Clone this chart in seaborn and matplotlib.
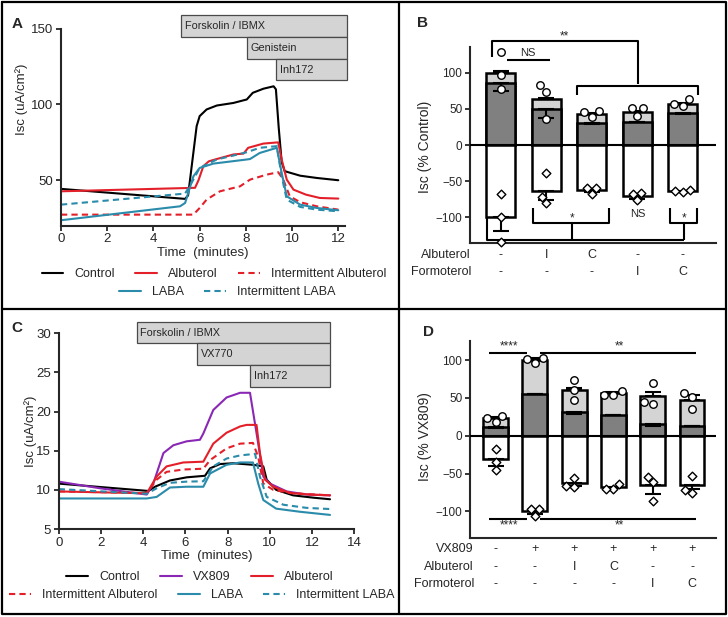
import numpy as np
import pandas as pd
import matplotlib
matplotlib.use("Agg")
import matplotlib.pyplot as plt
import matplotlib.transforms as mtransforms
from matplotlib.patches import Rectangle
from matplotlib.lines import Line2D
import seaborn as sns
import warnings
warnings.filterwarnings("ignore")

# ---------------- Panel A data (time in minutes, Isc uA/cm2) ----------------
a_control_t = [0, 5.37, 5.5, 5.87, 6.0, 6.3, 6.74, 7.46, 8.04, 8.3, 8.76, 9.2, 9.3, 9.42, 9.55, 9.68, 9.9, 10.35, 11.07, 12]
a_control = [44.3, 37.7, 40, 85.7, 92.3, 96.7, 99.3, 101, 103.3, 107.7, 110.4, 112, 110, 85, 62, 56, 55, 53, 51.5, 50]
a_alb_t = [0, 5.8, 5.95, 6.16, 6.4, 6.74, 7.46, 7.9, 8.1, 8.76, 9.4, 9.55, 9.77, 10.06, 10.6, 11.2, 12]
a_alb = [42.7, 45, 50, 59.3, 62.5, 64, 67, 67.6, 71.4, 74.2, 75, 63.7, 50.4, 43.8, 40.5, 38.3, 37.9]
a_ialb_t = [0, 5.73, 6.0, 6.3, 6.88, 7.46, 7.75, 8.18, 8.9, 9.4, 9.62, 9.9, 10.35, 11.07, 12]
a_ialb = [27.3, 27.3, 31.7, 37.2, 42.7, 44.9, 46, 50.4, 53.7, 55.3, 50.4, 39.4, 35.5, 32.8, 30.6]
a_laba_t = [0, 5.15, 5.37, 5.73, 6.0, 6.6, 7.46, 8.04, 8.18, 8.6, 9.34, 9.55, 9.77, 10.35, 11.07, 12]
a_laba = [23.6, 32.8, 35, 52.6, 58.1, 61, 62.6, 63.7, 64, 68, 71.4, 54.8, 39.4, 33.9, 31.7, 30.2]
a_ilaba_t = [0, 5.37, 5.73, 6.0, 6.74, 7.46, 8.04, 8.6, 9.34, 9.55, 9.77, 10.35, 11.07, 12]
a_ilaba = [33.9, 41.2, 50.4, 58.1, 63.7, 66.3, 68.5, 71.4, 72.5, 52.6, 37.2, 32.4, 30.6, 29.5]
a_drugs = ["Forskolin / IBMX", "Genistein", "Inh172"]
a_drug_start = [5.2, 8.04, 9.3]

# ---------------- Panel C data ----------------
c_control_t = [0, 4.25, 4.56, 5.27, 6.06, 6.93, 7.17, 7.64, 8.27, 9.2, 9.69, 9.85, 10.3, 11.1, 12.06, 12.85]
c_control = [10.8, 9.86, 10.4, 11.2, 11.6, 11.8, 12.75, 13.3, 13.4, 13.2, 13.0, 11.3, 10.0, 9.3, 9.0, 8.8]
c_vx_t = [0, 1.96, 4.17, 4.48, 4.96, 5.43, 6.06, 6.69, 6.85, 7.32, 7.95, 8.59, 9.06, 9.45, 9.69, 10.0, 10.8, 11.74, 12.85]
c_vx = [11.05, 10.2, 9.4, 10.8, 14.7, 15.7, 16.2, 16.4, 17.2, 20.2, 21.8, 22.4, 22.4, 15.9, 11.7, 10.8, 9.8, 9.4, 9.3]
c_alb_t = [0, 4.17, 4.64, 5.11, 5.9, 6.85, 7.32, 7.95, 8.59, 8.9, 9.37, 9.53, 9.77, 10.16, 10.95, 11.9, 12.85]
c_alb = [9.8, 9.56, 11.7, 13.0, 13.5, 13.6, 15.9, 17.3, 18.1, 18.3, 18.3, 14.7, 11.3, 10.4, 9.6, 9.4, 9.3]
c_ialb_t = [0, 4.17, 4.64, 5.11, 5.9, 6.85, 7.17, 7.95, 8.59, 9.2, 9.45, 9.69, 10.16, 11.1, 12.85]
c_ialb = [9.8, 9.6, 11.3, 12.3, 12.6, 12.7, 13.8, 15.3, 15.9, 16.0, 14.2, 10.8, 10.0, 9.56, 9.3]
c_laba_t = [0, 4.17, 4.64, 5.27, 6.06, 6.85, 7.17, 7.95, 8.59, 9.2, 9.45, 9.69, 10.3, 11.43, 12.85]
c_laba = [8.9, 8.9, 9.1, 10.3, 10.4, 10.4, 12.1, 13.2, 13.5, 13.5, 10.8, 8.7, 7.6, 7.2, 6.8]
c_ilaba_t = [0, 4.17, 4.64, 5.27, 6.06, 6.85, 7.32, 7.95, 8.59, 9.3, 9.53, 9.85, 10.64, 11.74, 12.85]
c_ilaba = [10.1, 9.5, 10.2, 10.9, 11.05, 11.1, 13.0, 14.0, 14.4, 14.6, 11.7, 9.1, 8.1, 7.7, 7.55]
c_drugs = ["Forskolin / IBMX", "VX770", "Inh172"]
c_drug_start = [3.69, 6.57, 9.06]

# ---------------- Panel B data (% Control) ----------------
b_groups = ["g1", "g2", "g3", "g4", "g5"]
b_albuterol = ["-", "I", "C", "-", "-"]
b_formoterol = ["-", "-", "-", "I", "C"]
b_total = [100, 63.1, 42.4, 45.2, 56.7]
b_total_err = [102, 65.4, 43.8, 47, 58.5]
b_dark = [85.3, 49.3, 30, 32.3, 43.8]
b_dark_err = [74.7, 37.8, 29.2, 31.5, 42.9]
b_neg = [-100, -63.1, -62.2, -70.5, -63.1]
b_neg_err = [-119.5, -76, -65.4, -75.1, -64.5]
b_circles = [[129, 96.8, 78], [83, 73.7, 36], [45.2, 39.2, 47], [50.7, 40.6, 50.7], [56.2, 53.9, 63.1]]
b_diamonds = [[-68.2, -100, -133.6], [-39.2, -71.4, -80.6], [-59, -67.7, -59.9], [-66.8, -76, -67.7], [-62.2, -65.4, -63.1]]

# ---------------- Panel D data (% VX809) ----------------
d_groups = ["h1", "h2", "h3", "h4", "h5", "h6"]
d_vx809 = ["-", "+", "+", "+", "+", "+"]
d_albuterol = ["-", "-", "I", "C", "-", "-"]
d_formoterol = ["-", "-", "-", "-", "I", "C"]
d_total = [22.9, 100, 60.4, 56, 52.9, 47.1]
d_total_err = [24.2, 102.2, 63.4, 58.1, 58.1, 53.7]
d_dark = [11, 54.6, 31.7, 27.3, 15.4, 12.8]
d_dark_err = [9.8, 54.6, 28.6, 27.3, 13.2, 12.8]
d_neg = [-30.8, -100, -62.1, -67.4, -65.6, -65.6]
d_neg_err = [-39.6, -103.5, -66.1, -69.6, -76.7, -70.9]
d_circles = [[26, 17.6, 22.9], [100.9, 95.6, 102.2], [73.6, 60.4, 47.1], [53.7, 53.7, 59.5], [70, 41.9, 44.9], [56, 50.7, 34.8]]
d_diamonds = [[-18.1, -45.4, -35.2], [-96.9, -106.2, -97.4], [-55.5, -67.4, -66.1], [-64.3, -70.9, -70.9], [-54.2, -61.7, -86.3], [-53.3, -76.2, -71.8]]

# ---------------- style ----------------
sns.set_style("ticks")
plt.rcParams["font.family"] = ["Liberation Sans", "DejaVu Sans"]
plt.rcParams["axes.linewidth"] = 1.5
plt.rcParams["xtick.major.width"] = 1.3
plt.rcParams["ytick.major.width"] = 1.3
plt.rcParams["xtick.major.size"] = 3.5
plt.rcParams["ytick.major.size"] = 3.5

RED = "#e3202a"
TEAL = "#2a8bab"
PURPLE = "#8a28b5"
LIGHT = "#d4d4d4"
DARK = "#808080"

W, H = 728, 617
fig = plt.figure(figsize=(W / 100, H / 100), dpi=100)


def ax_px(left, top, right, bottom):
    return fig.add_axes([left / W, 1 - bottom / H, (right - left) / W, (bottom - top) / H])


def long_df(series):
    frames = []
    for name, t, v in series:
        frames.append(pd.DataFrame({"t": t, "isc": v, "series": name}))
    return pd.concat(frames, ignore_index=True)


palette = {"Control": "black", "VX809": PURPLE, "Albuterol": RED, "Intermittent Albuterol": RED,
           "LABA": TEAL, "Intermittent LABA": TEAL}
dashes = {"Control": "", "VX809": "", "Albuterol": "", "Intermittent Albuterol": (3, 2),
          "LABA": "", "Intermittent LABA": (3, 2)}


def trace_panel(ax, df, xlim, ylim, xticks, yticks, drugs, starts, box_right, box_ys):
    sns.lineplot(data=df, x="t", y="isc", hue="series", style="series", palette=palette,
                 dashes=dashes, estimator=None, sort=False, lw=1.5, legend=False, ax=ax)
    ax.set_xlim(*xlim)
    ax.set_ylim(*ylim)
    ax.set_xticks(xticks)
    ax.set_yticks(yticks)
    ax.tick_params(labelsize=9.5, pad=2)
    sns.despine(ax=ax)
    ax.set_xlabel("Time  (minutes)", fontsize=9.5, labelpad=1)
    for i, (name, s) in enumerate(zip(drugs, starts)):
        y0, y1 = box_ys[i + 1], box_ys[i]
        ax.add_patch(Rectangle((s, y0), box_right - s, y1 - y0, facecolor=LIGHT,
                               edgecolor="#4a4a4a", lw=0.9, clip_on=False, zorder=5))
        ax.text(s + (xlim[1] - xlim[0]) * 0.013, (y0 + y1) / 2, name, fontsize=7.8,
                va="center", ha="left", clip_on=False, zorder=6)


# ---------------- Panel A ----------------
axA = ax_px(61, 28.7, 345, 225.7)
dfA = long_df([("Control", a_control_t, a_control), ("Albuterol", a_alb_t, a_alb),
               ("Intermittent Albuterol", a_ialb_t, a_ialb), ("LABA", a_laba_t, a_laba),
               ("Intermittent LABA", a_ilaba_t, a_ilaba)])
trace_panel(axA, dfA, (0, 12.29), (20, 150), [0, 2, 4, 6, 8, 10, 12], [50, 100, 150],
            a_drugs, a_drug_start, 12.37, [159.1, 144.5, 130.0, 116.1])
axA.set_ylabel("Isc (uA/cm²)", fontsize=9.5)
axA.yaxis.set_label_coords(-0.115, 0.64)

# ---------------- Panel C ----------------
axC = ax_px(58.7, 333.3, 354.3, 529)
dfC = long_df([("Control", c_control_t, c_control), ("VX809", c_vx_t, c_vx),
               ("Albuterol", c_alb_t, c_alb), ("Intermittent Albuterol", c_ialb_t, c_ialb),
               ("LABA", c_laba_t, c_laba), ("Intermittent LABA", c_ilaba_t, c_ilaba)])
trace_panel(axC, dfC, (0, 14), (5, 30), [0, 2, 4, 6, 8, 10, 12, 14], [5, 10, 15, 20, 25, 30],
            c_drugs, c_drug_start, 12.85, [31.5, 28.7, 25.9, 23.2])
axC.set_ylabel("Isc (uA/cm²)", fontsize=9.5)
axC.yaxis.set_label_coords(-0.072, 0.5)


def handle(name):
    d = dashes[name]
    h = Line2D([], [], color=palette[name], lw=1.5)
    if d:
        h.set_dashes(d)
    return h


def row_legend(names, cx, cy):
    hs = [handle(n) for n in names]
    fig.legend(hs, names, loc="center", bbox_to_anchor=(cx / W, 1 - cy / H),
               bbox_transform=fig.transFigure, ncol=len(names), frameon=False, fontsize=9,
               handlelength=1.75, handletextpad=0.9, columnspacing=1.6, borderpad=0,
               borderaxespad=0)


row_legend(["Control", "Albuterol", "Intermittent Albuterol"], 214, 274)
row_legend(["LABA", "Intermittent LABA"], 227, 292)
row_legend(["Control", "VX809", "Albuterol"], 200, 577.5)
row_legend(["Intermittent Albuterol", "LABA", "Intermittent LABA"], 202, 595)


# ---------------- bar panels ----------------
def bar_panel(ax, groups, total, total_err, dark, dark_err, neg, neg_err, circles, diamonds,
              xlim, ylim, width):
    sns.barplot(x=groups, y=total, order=groups, color=LIGHT, saturation=1, edgecolor="black",
                linewidth=1.8, width=width, errorbar=None, ax=ax)
    sns.barplot(x=groups, y=dark, order=groups, color=DARK, saturation=1, edgecolor="black",
                linewidth=1.8, width=width, errorbar=None, ax=ax)
    sns.barplot(x=groups, y=neg, order=groups, color="white", saturation=1, edgecolor="black",
                linewidth=1.8, width=width, errorbar=None, ax=ax)
    xs = np.arange(len(groups))
    for base, tip in ((total, total_err), (dark, dark_err), (neg, neg_err)):
        base = np.array(base, float)
        tip = np.array(tip, float)
        lower = np.clip(base - tip, 0, None)
        upper = np.clip(tip - base, 0, None)
        ax.errorbar(xs, base, yerr=[lower, upper], fmt="none", ecolor="black", elinewidth=1.5,
                    capsize=5.5, capthick=1.5, zorder=4)
    ax.axhline(0, color="black", lw=1.5, zorder=3)
    cdf = pd.DataFrame({"g": np.repeat(groups, [len(c) for c in circles]),
                        "v": np.concatenate(circles)})
    ddf = pd.DataFrame({"g": np.repeat(groups, [len(c) for c in diamonds]),
                        "v": np.concatenate(diamonds)})
    sns.swarmplot(data=cdf, x="g", y="v", order=groups, color="white", edgecolor="black",
                  linewidth=1.0, size=5.4, marker="o", ax=ax, zorder=6)
    sns.swarmplot(data=ddf, x="g", y="v", order=groups, color="white", edgecolor="black",
                  linewidth=1.0, size=4.4, marker="D", ax=ax, zorder=6)
    for coll in ax.collections:
        coll.set_clip_on(False)
    ax.set_xlim(*xlim)
    ax.set_ylim(*ylim)
    ax.set_yticks([-100, -50, 0, 50, 100])
    ax.set_xticks([])
    ax.set_xlabel("")
    ax.tick_params(axis="y", labelsize=8.5, pad=2)
    sns.despine(ax=ax)


def bracket(ax, xs, ys):
    ax.plot(xs, ys, color="black", lw=1.5, clip_on=False, solid_capstyle="butt", zorder=5)


def table_rows(ax, labels, rows, ys, label_x):
    trans = mtransforms.blended_transform_factory(ax.transData, fig.transFigure)
    for lab, row, y in zip(labels, rows, ys):
        fig.text(label_x / W, 1 - y / H, lab, ha="right", va="center", fontsize=9)
        for i, v in enumerate(row):
            ax.text(i, 1 - y / H, v, transform=trans, ha="center", va="center", fontsize=9,
                    clip_on=False)


# Panel B
axB = ax_px(470, 46.7, 715.7, 242.7)
bar_panel(axB, b_groups, b_total, b_total_err, b_dark, b_dark_err, b_neg, b_neg_err,
          b_circles, b_diamonds, (-0.67, 4.72), (-135, 136), 0.64)
axB.set_ylabel("Isc (% Control)", fontsize=10)
axB.yaxis.set_label_coords(-0.155, 0.49)
bracket(axB, [-0.18, -0.18, 3.02, 3.02], [122, 144, 144, 85])
bracket(axB, [1.68, 1.68, 4.34, 4.34], [69, 81.6, 81.6, 69])
axB.text(1.39, 150, "**", ha="center", va="center", fontsize=8.5)
bracket(axB, [0.15, 1.08], [117.5, 117.5])
axB.text(0.59, 127, "NS", ha="center", va="center", fontsize=8)
bracket(axB, [0.71, 0.71, 2.39, 2.39], [-87.6, -108.3, -108.3, -87.6])
bracket(axB, [1.56, 1.56], [-108.3, -131.4])
axB.text(1.56, -101, "*", ha="center", va="center", fontsize=8.5)
bracket(axB, [3.72, 3.72, 4.3, 4.3], [-87.6, -108.3, -108.3, -87.6])
bracket(axB, [4.03, 4.03], [-108.3, -131.4])
axB.text(4.03, -101, "*", ha="center", va="center", fontsize=8.5)
bracket(axB, [-0.3, -0.3, 4.03], [-101, -131.4, -131.4])
axB.text(3.02, -95.4, "NS", ha="center", va="center", fontsize=8)
table_rows(axB, ["Albuterol", "Formoterol"], [b_albuterol, b_formoterol], [255, 271.7], 471)

# Panel D
axD = ax_px(470, 340.7, 715.7, 537.7)
bar_panel(axD, d_groups, d_total, d_total_err, d_dark, d_dark_err, d_neg, d_neg_err,
          d_circles, d_diamonds, (-0.65, 5.6), (-134.7, 125.5), 0.63)
axD.set_ylabel("Isc (% VX809)", fontsize=10)
axD.yaxis.set_label_coords(-0.155, 0.515)
bracket(axD, [-0.17, 0.8], [108.9, 108.9])
bracket(axD, [1.14, 5.11], [108.9, 108.9])
axD.text(0.34, 118, "****", ha="center", va="center", fontsize=8.5)
axD.text(3.14, 118, "**", ha="center", va="center", fontsize=8.5)
bracket(axD, [-0.17, 0.8], [-110, -110])
bracket(axD, [1.14, 5.11], [-110, -110])
axD.text(0.34, -119, "****", ha="center", va="center", fontsize=8.5)
axD.text(3.14, -119, "**", ha="center", va="center", fontsize=8.5)
table_rows(axD, ["VX809", "Albuterol", "Formoterol"], [d_vx809, d_albuterol, d_formoterol],
           [549.3, 566.7, 584], 474)

# ---------------- panel letters & frame ----------------
for lab, x, y in (("A", 17, 24), ("B", 422, 23), ("C", 17, 328), ("D", 428, 332)):
    fig.text(x / W, 1 - y / H, lab, fontsize=11, fontweight="bold", ha="center", va="center")

for xs, ys in (([1.5, 725.5, 725.5, 1.5, 1.5], [1.5, 1.5, 613.5, 613.5, 1.5]),
               ([399.3, 399.3], [1.5, 613.5]), ([1.5, 725.5], [309, 309])):
    fig.add_artist(Line2D([x / W for x in xs], [1 - y / H for y in ys], color="black",
                          lw=1.6, transform=fig.transFigure))

fig.savefig("out.png", dpi=100)
